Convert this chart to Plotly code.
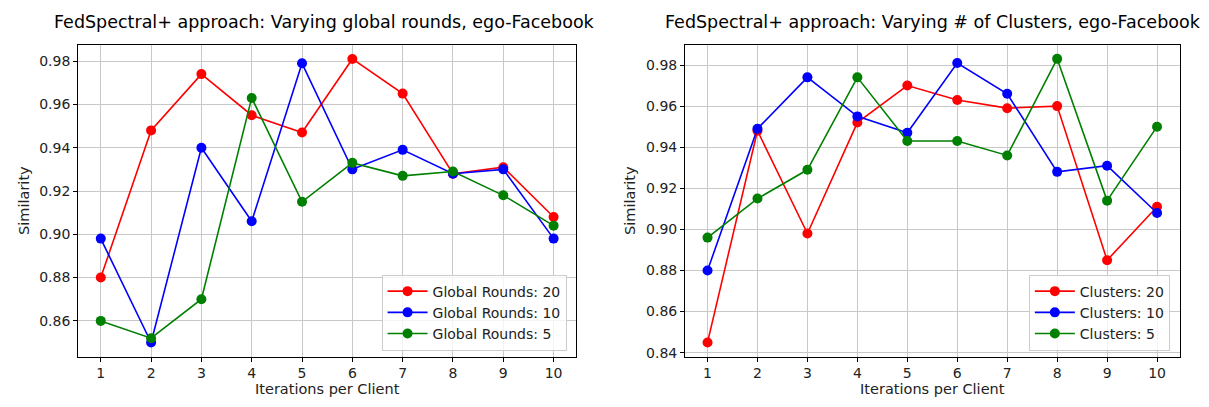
import plotly.graph_objects as go

iterations = [1, 2, 3, 4, 5, 6, 7, 8, 9, 10]

# left panel: varying global rounds
rounds_20 = [0.880, 0.948, 0.974, 0.955, 0.947, 0.981, 0.965, 0.928, 0.931, 0.908]
rounds_10 = [0.898, 0.850, 0.940, 0.906, 0.979, 0.930, 0.939, 0.928, 0.930, 0.898]
rounds_5 = [0.860, 0.852, 0.870, 0.963, 0.915, 0.933, 0.927, 0.929, 0.918, 0.904]

# right panel: varying number of clusters
clusters_20 = [0.845, 0.948, 0.898, 0.952, 0.970, 0.963, 0.959, 0.960, 0.885, 0.911]
clusters_10 = [0.880, 0.949, 0.974, 0.955, 0.947, 0.981, 0.966, 0.928, 0.931, 0.908]
clusters_5 = [0.896, 0.915, 0.929, 0.974, 0.943, 0.943, 0.936, 0.983, 0.914, 0.950]

left_ticks = [0.86, 0.88, 0.90, 0.92, 0.94, 0.96, 0.98]
right_ticks = [0.84, 0.86, 0.88, 0.90, 0.92, 0.94, 0.96, 0.98]

colors = ['#ff0000', '#0000ff', '#008000']
font = 'DejaVu Sans'

fig = go.Figure()

left = [('Global Rounds: 20', rounds_20), ('Global Rounds: 10', rounds_10), ('Global Rounds: 5', rounds_5)]
right = [('Clusters: 20', clusters_20), ('Clusters: 10', clusters_10), ('Clusters: 5', clusters_5)]

for (name, vals), c in zip(left, colors):
    fig.add_trace(go.Scatter(x=iterations, y=vals, name=name, mode='lines+markers',
                             line=dict(color=c, width=1.6), marker=dict(color=c, size=10),
                             xaxis='x', yaxis='y', legend='legend'))

for (name, vals), c in zip(right, colors):
    fig.add_trace(go.Scatter(x=iterations, y=vals, name=name, mode='lines+markers',
                             line=dict(color=c, width=1.6), marker=dict(color=c, size=10),
                             xaxis='x2', yaxis='y2', legend='legend2'))

axis_common = dict(showline=True, linecolor='black', linewidth=1, mirror=True,
                   showgrid=True, gridcolor='#c8c8c8', gridwidth=1,
                   ticks='outside', ticklen=4, tickcolor='black',
                   tickfont=dict(family=font, size=14, color='#222'), zeroline=False)

lbl = dict(size=14.5)

fig.update_layout(
    width=1209, height=407,
    paper_bgcolor='white', plot_bgcolor='white',
    margin=dict(l=0, r=0, t=0, b=0),
    font=dict(family=font, color='#222'),
    xaxis=dict(domain=[0.058, 0.470], range=[0.55, 10.45], tickvals=iterations,
               title=dict(text='Iterations per Client', font=lbl, standoff=2),
               anchor='y', **axis_common),
    yaxis=dict(domain=[0.135, 0.909], range=[0.8435, 0.9876], tickvals=left_ticks,
               tickformat='.2f', title=dict(text='Similarity', font=lbl, standoff=6),
               anchor='x', **axis_common),
    xaxis2=dict(domain=[0.560, 0.969], range=[0.55, 10.45], tickvals=iterations,
                title=dict(text='Iterations per Client', font=lbl, standoff=2),
                anchor='y2', **axis_common),
    yaxis2=dict(domain=[0.135, 0.909], range=[0.8381, 0.9899], tickvals=right_ticks,
                tickformat='.2f', title=dict(text='Similarity', font=lbl, standoff=6),
                anchor='x2', **axis_common),
    legend=dict(x=0.462, y=0.15, xanchor='right', yanchor='bottom',
                bgcolor='rgba(255,255,255,0.8)', bordercolor='#cccccc', borderwidth=1,
                font=dict(size=14), tracegroupgap=0, itemwidth=40),
    legend2=dict(x=0.961, y=0.15, xanchor='right', yanchor='bottom',
                 bgcolor='rgba(255,255,255,0.8)', bordercolor='#cccccc', borderwidth=1,
                 font=dict(size=14), tracegroupgap=0, itemwidth=40),
    annotations=[
        dict(text='FedSpectral+ approach: Varying global rounds, ego-Facebook',
             x=0.262, y=0.995, xref='paper', yref='paper', showarrow=False,
             xanchor='center', yanchor='top', font=dict(size=17.5, color='black')),
        dict(text='FedSpectral+ approach: Varying # of Clusters, ego-Facebook',
             x=0.765, y=0.995, xref='paper', yref='paper', showarrow=False,
             xanchor='center', yanchor='top', font=dict(size=17.5, color='black')),
    ],
)

fig.write_html("out.html")
